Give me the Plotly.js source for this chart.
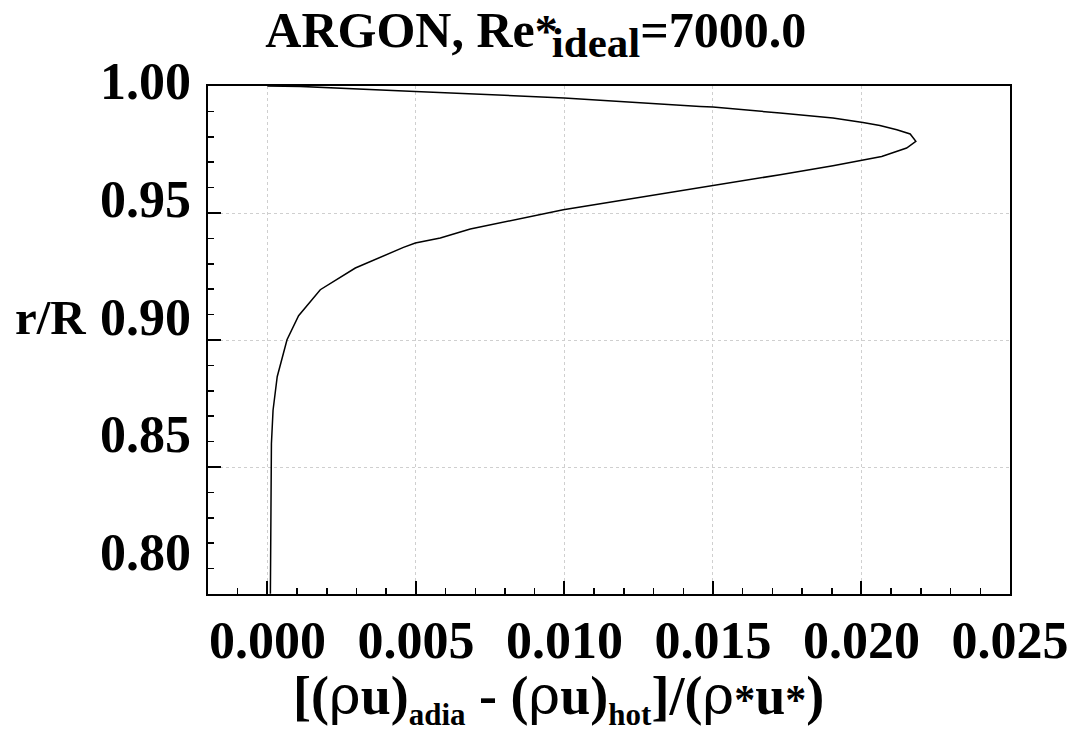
<!DOCTYPE html>
<html>
<head>
<meta charset="utf-8">
<script src="https://cdn.plot.ly/plotly-3.0.1.min.js"></script>
<style>html,body{margin:0;padding:0;background:#fff;}#chart{width:1078px;height:732px;}</style>
</head>
<body>
<div id="chart"></div>
<script>
// Data
const deltaRhoU = [0.0, 0.00111, 0.00498, 0.00999, 0.01457, 0.01500, 0.01726, 0.01904, 0.02005, 0.02062, 0.02119, 0.02164, 0.02183,
  0.02152, 0.02068, 0.01995, 0.01904, 0.01726, 0.01501, 0.01278, 0.00996, 0.00683, 0.00582, 0.00498, 0.00458, 0.00296, 0.00178,
  0.00105, 0.00066, 0.00033, 0.00019, 0.000135, 0.000125, 0.00011, 0.0001];
const rOverR = [1.0, 0.99984, 0.99787, 0.99528, 0.99197, 0.99173, 0.98937, 0.98740, 0.98567, 0.98449, 0.98280, 0.98110, 0.97819,
  0.97559, 0.97228, 0.97059, 0.96862, 0.96508, 0.96087, 0.95681, 0.95130, 0.94370, 0.94016, 0.93819, 0.93646, 0.92835, 0.91980,
  0.90957, 0.90012, 0.88555, 0.87236, 0.85917, 0.84343, 0.82531, 0.8001];
const xTickVals = [0.000, 0.005, 0.010, 0.015, 0.020, 0.025];
const xTickText = ['0.000', '0.005', '0.010', '0.015', '0.020', '0.025'];
const yTickVals = [0.80, 0.85, 0.90, 0.95, 1.00];
const yTickText = ['0.80', '0.85', '0.90', '0.95', '1.00'];

const serif = 'Liberation Serif, Times New Roman, serif';
const rho = '<span style="font-family:DejaVu Serif;font-weight:normal">ρ</span>';
const star = '<span style="font-size:42px;font-weight:bold">*</span>';

const curve = {
  x: deltaRhoU, y: rOverR, type: 'scatter', mode: 'lines',
  line: {color: '#000', width: 1.5}, showlegend: false, hoverinfo: 'skip'
};
// empty trace only so that the label axis (y2) is drawn
const labelAxisHolder = {
  x: [], y: [], xaxis: 'x', yaxis: 'y2', type: 'scatter', mode: 'lines',
  showlegend: false, hoverinfo: 'skip'
};

const layout = {
  width: 1078, height: 732,
  margin: {l: 208, r: 68, t: 86, b: 138},
  paper_bgcolor: '#fff', plot_bgcolor: '#fff',
  showlegend: false,
  title: {
    text: '<b>ARGON, Re<span style="font-size:46px;letter-spacing:-6px">*</span><sub><span style="font-size:43px">ideal</span></sub>=7000.0</b>',
    font: {family: serif, size: 50, color: '#000'},
    x: 0.497, xref: 'container', xanchor: 'center',
    y: 0.984, yref: 'container', yanchor: 'top'
  },
  xaxis: {
    range: [-0.002, 0.025],
    tickvals: xTickVals, ticktext: xTickText,
    ticks: 'inside', ticklen: 13, tickwidth: 2, tickcolor: '#000',
    minor: {dtick: 0.001, tick0: 0, ticks: 'inside', ticklen: 6, tickwidth: 1.5, tickcolor: '#000', showgrid: false},
    showgrid: true, gridcolor: '#cfcfcf', gridwidth: 1, griddash: 'dot',
    showline: true, linecolor: '#000', linewidth: 2, mirror: true,
    zeroline: false,
    tickfont: {family: serif, size: 52, color: '#000', weight: 'bold'},
    ticklabelstandoff: 0
  },
  yaxis: {
    range: [0.80, 1.00],
    tickvals: yTickVals, showticklabels: false,
    ticks: 'inside', ticklen: 13, tickwidth: 2, tickcolor: '#000',
    minor: {dtick: 0.01, tick0: 0.8, ticks: 'inside', ticklen: 6, tickwidth: 1.5, tickcolor: '#000', showgrid: false},
    showgrid: true, gridcolor: '#cfcfcf', gridwidth: 1, griddash: 'dot',
    showline: true, linecolor: '#000', linewidth: 2, mirror: true,
    zeroline: false
  },
  yaxis2: {
    overlaying: 'y', side: 'left', anchor: 'x',
    range: [0.7843, 1.00],
    tickvals: yTickVals, ticktext: yTickText,
    ticks: '', showgrid: false, showline: false, zeroline: false,
    tickfont: {family: serif, size: 52, color: '#000', weight: 'bold'},
    ticklabelstandoff: 16, ticklabelshift: -5
  },
  annotations: [
    {
      text: '<b>r/R</b>', xref: 'paper', yref: 'paper',
      x: -0.197, y: 0.545, xanchor: 'center', yanchor: 'middle', showarrow: false,
      font: {family: serif, size: 49, color: '#000'}
    },
    {
      text: '<b>[(</b>' + rho + '<b>u)<sub><span style="font-size:31px">adia</span></sub> - (</b>' + rho +
            '<b>u)<sub><span style="font-size:31px">hot</span></sub>]/(</b>' + rho + star + '<b>u</b>' + star + '<b>)</b>',
      xref: 'paper', yref: 'paper',
      x: 0.437, y: -0.276, xanchor: 'center', yanchor: 'bottom', showarrow: false,
      font: {family: serif, size: 54, color: '#000'}
    }
  ]
};

Plotly.newPlot('chart', [curve, labelAxisHolder], layout, {staticPlot: true, displayModeBar: false});
</script>
</body>
</html>
